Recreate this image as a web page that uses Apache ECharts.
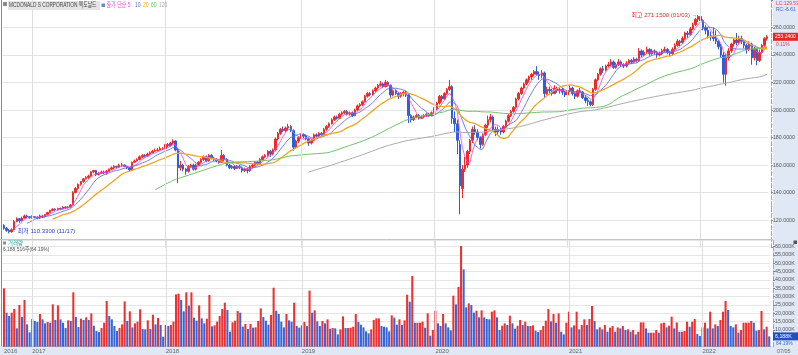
<!DOCTYPE html>
<html><head><meta charset="utf-8">
<script src="https://cdn.jsdelivr.net/npm/echarts@6/dist/echarts.min.js"></script>
<style>
html,body{margin:0;padding:0;background:#fff}
#c{width:798px;height:355px;background:linear-gradient(to right,rgba(0,0,0,0) 773px,#dfe8f4 773px),linear-gradient(to bottom,rgba(0,0,0,0) 346px,#dfe8f4 346px),#fff}
</style>
</head><body><div id="c"></div><script>
const startDate = '2016-10-17';
const yearLabels = ['2016','2017','2018','2019','2020','2021','2022'];
const lastLabel = '07/05';
const opens = [116,114,112.5,111.5,113,119,121,119.5,121.5,123,
122.5,121.7,122.5,122,121.5,123,122.5,124,125.5,127,
128,127.5,128.5,128,129.5,129,129.5,131,140,143,
146,148,150,151,152,155,156,153,154,155,
154.5,155.5,157,158,159,158.5,160,160,159,158,
156.5,162,163,164,166,167,166.5,168,169,170,
170.5,171,172,172,175,174,176,177.5,171,158,
160,157,155.5,159,160,157,160,162,164,166,
163,167,165,164,163,162,167,164,160,158,
159,157.5,159,158,156,157,156,159,160,162,
161,164,166,167,170,168,171,179,183,186,
185,187,188,185,173,177.5,180,182,181,179,
176,178,182,181,183,182,186,188,190,193,
195,194,197,198,199,197,198,196,200,203,
204,206,210,212,211,214,216,218,219,217,
220,218,211,214,212,210,212,213,211,196,
193,195,196,194,195,196,197,196,198,201,
205,210,208,212,215,217,194,190,175,143,
157,160,170,178,186,184,180,175,182,189,
193,195,186,184,186,184,188,192,196,199,
202,208,212,216,219,222,224,226,228,226,
225,227,212,215,214,212,216,214,215,213,
211,214,216,212,210,214,213,209,207,206,
204,215,222,226,230,229,232,233,235,231,
233,235,233,232,234,236,235,237,236,243,
240,242,244,241,243,242,240,241,243,244,
242,241,244,247,250,249,252,256,255,259,
262,266,268,265,260,258,254,253,252,250,
246,240,226,238,243,248,251,249,252,250,
247,244,248,238,244,236,242,247,252];
const highs = [117,115,113.5,114,120,122,121.5,122.5,124,124,
123,123.5,123,122.8,124,123.8,124.5,126,127.5,128.5,
128.6,129,129,130,130,130.2,131.5,141,144,146.5,
148.5,150.5,152,153,155.5,156.5,156.5,155,156,156,
156.5,157.5,159,160,159.5,161,161.5,160.5,159.5,158.5,
162.5,164,165,167,168,168,169,170,171,172,
172.5,173.5,173,176,176,177,178.7,178,172,163,
161,158,160,161,161,161,163,165,167,167,
168,168,166,165,164,171,168,165,161,160,
160,160,160,159,158,158,160,161,163,163,
165,167,168,171,171,172,180,184,187,188,
188,190,189,186,178.5,181,183,183,182,180,
179,183,183,184,184,187,189,191,194,196,
196,198,199,200,200,199,199,201,204,205,
207,211,213,213,215,217,219,221,220,221.9,
221,218.5,215,215,213,213,214,214,212,197,
196,197,197,196,197,198,198,199,202,206,
211,211,213,216,221.9,218,199,193,178,160,
166,171,179,188,189,186,181,183,190,196,
197,196,188,188,187,189,193,197,200,203,
209,213,217,220,223,225,227,229,231.9,228,
229,228,217,217,215.5,218,217,216.5,216,214,
215.5,218,217,213,215,216,214,211,209,207,
216,223,227,231,232,233,235,237,236,234.5,
237,236,234,235.5,237,237,238.5,238,245,244,
243.5,246,245,244.5,244,243,242.5,244.5,246,245,
243,245.5,248.5,251.5,251,253.5,257,257.5,260.5,263.5,
267,269,271.15,266,262,260,257,260,258,251,
248,242,241,245,249,252,256,254,254,251.5,
248,250,249,246,245,244,248,253,254.5];
const lows = [113,111.5,110.33,111,112.5,118.5,118,119,121,121.5,
121,121,121.3,120.5,120.8,121.5,122,123.5,125,126.5,
126.8,127,127.2,127.8,128.2,128.5,129,130.5,139.5,142,
145,147,149.5,150,151.5,154,152,152.5,153.5,153.5,
153,155,156.5,157,157.5,158,159,158.5,157,155.5,
156,161.5,162.5,163.5,165,165.5,166,167.5,168.5,169.5,
170,170.5,171,171.5,173,173.5,175,170,146.84,156,
155.5,153,154.5,158,156,156,159,161,163,162,
162.5,164,163,162,161,161.5,163,159,157,157,
156.5,157,157,154.5,155,154,155,158,159,160,
160.5,163.5,165,166,166,167,170,178,182,184,
184,185,184,170.5,172,176,179,179.5,178,174,
175,177.5,180,180.5,181,181.5,185,187,189.5,192,
193,193.5,196,197,196,196,195,195.5,199.5,202,
203,205.5,209,210,210.5,213,215,217,216,216.5,
217,209,210,211,208,209,210,209.5,190.5,191,
192,194,193,193.5,194,195,195,195.5,197,200,
204,206,207.5,211,214,190,184,168,124.23,136,
155,158,168,176,182,178,172,174,181,187,
191,184,181,182,182,183,187,191,195,198,
201,207,211,215,218,220,222,224.5,225,222,
223,209,211,212,210.5,211.5,212.5,212,211,209.5,
210,213,210.5,208,209,212,208,205,203,202.7,
203,214,221,225,227,228,231,232,230,230,
232,231.5,230.5,231,233,233.5,234,234.5,235,238.5,
239,241,239.5,240,240.5,238,239,240,242,240.5,
239,240,243,246,246.5,248,251,252.5,254,258,
261,264,263,258,255,252,250.5,250,248,244,
238,220,217.68,236,241.5,246,247,247.5,248,245,
241,243,233,236,232.5,235,241,246,250.5];
const closes = [114,112.5,111.5,113,119,121,119.5,121.5,123,122.5,
121.7,122.5,122,121.5,123,122.5,124,125.5,127,128,
127.5,128.5,128,129.5,129,129.5,131,140,143,146,
148,150,151,152,155,156,153,154,155,154.5,
155.5,157,158,159,158.5,160,160,159,158,156.5,
162,163,164,166,167,166.5,168,169,170,170.5,
171,172,172,175,174,176,177.5,171,158,160,
157,155.5,159,160,157,160,162,164,166,163,
167,165,164,163,162,167,164,160,158,159,
157.5,159,158,156,157,156,159,160,162,161,
164,166,167,170,168,171,179,183,186,185,
187,188,185,173,177.5,180,182,181,179,176,
178,182,181,183,182,186,188,190,193,195,
194,197,198,199,197,198,196,200,203,204,
206,210,212,211,214,216,218,219,217,220,
218,211,214,212,210,212,213,211,196,193,
195,196,194,195,196,197,196,198,201,205,
210,208,212,215,217,194,190,178,145,157,
160,170,178,186,184,180,175,182,189,193,
195,186,184,186,184,188,192,196,199,202,
208,212,216,219,222,224,226,228,226,225,
227,212,215,214,212,216,214,215,213,211,
214,216,212,210,214,213,209,207,206,204,
215,222,226,230,229,232,233,235,231,233,
235,233,232,234,236,235,237,236,243,240,
242,244,241,243,242,240,241,243,244,242,
241,244,247,250,249,252,256,255,259,262,
266,268,265,260,258,254,253,252,250,246,
240,226,238,243,248,251,249,252,250,247,
244,248,238,244,236,242,247,252,253.24];
const volumesK = [35000,20400,18400,20400,22600,11000,25000,17800,28000,13400,
8600,16600,15400,14800,19600,16400,14000,14800,14400,25400,
16000,24800,16400,14400,11200,15800,15400,32600,17800,11800,
16800,16000,17600,16000,20000,12600,9400,8800,11200,14400,
27400,18400,16400,12400,9400,11200,13400,27200,15400,21200,
11600,14000,15000,22400,10600,10400,15800,10600,19200,13400,
17200,13000,6000,13000,12400,13000,15000,31400,31800,28000,
21200,32600,24600,32600,17400,15600,24800,17000,14000,16800,
31000,12200,12800,15000,18400,22600,26400,22000,9000,14600,
15600,21400,20400,12000,13600,10600,13600,11400,11600,15400,
23000,17800,15600,13200,19000,35400,21600,19600,15000,11600,
19600,15800,15000,26400,12400,11400,12800,14800,12400,33600,
20400,21800,15200,12400,15400,14000,16400,10800,11200,11000,
7400,10400,18200,11200,11200,11400,12000,19600,14800,13200,
11600,9200,8000,10400,16000,17000,17000,12400,12000,11600,
9200,18800,17400,13200,
16400,13000,15800,31200,27000,42400,14400,14400,14400,15000,
11400,20000,6600,10000,21600,14000,12400,19600,14000,11600,
9800,30600,25400,35800,60400,46400,23600,26000,25000,20400,
21600,17600,21800,17600,16600,16400,21000,21800,17600,10000,
12600,14000,13000,18600,14000,10800,12600,16000,13000,15000,
12400,12400,12800,9600,8800,10000,12400,15600,22600,15200,
19600,14400,20000,9000,7400,14400,21000,11600,12800,21000,
10400,13000,16400,13000,16600,24400,15400,10400,11600,10400,
13000,9000,11400,12400,9000,11600,11000,12400,10000,10400,
9000,10000,7400,9000,14600,14600,11000,8400,8400,8400,
10000,8400,14000,14400,11600,12600,18000,11000,14600,9000,
9000,9400,15000,12000,15000,16600,7600,6400,11600,14400,
11000,21000,11000,13400,12400,16000,21000,27400,22000,12400,
11600,13400,8400,10000,14400,14400,14400,15400,14400,9600,
10000,21400,10400,12000,6188];
const maPeriods = [5,10,20,60,120];
const maColors = ['#ee4fd8','#5a6fd6','#f0a526','#6fbf6a','#a9a9a9'];

const n = closes.length;
if (opens.length!==n||highs.length!==n||lows.length!==n||volumesK.length!==n) {
  throw new Error('length mismatch '+[opens.length,highs.length,lows.length,closes.length,volumesK.length].join(','));
}
const dates = [];
let t = Date.parse(startDate+'T00:00:00Z');
for (let i=0;i<n;i++){ dates.push(new Date(t).toISOString().slice(0,10)); t += 7*86400000; }
const yearIdx = [];
for (let i=1;i<n;i++) if (dates[i].slice(0,4)!==dates[i-1].slice(0,4)) yearIdx.push(i);

function ma(p){ return closes.map((_,i)=>{ if(i<p-1) return '-'; let s=0; for(let k=i-p+1;k<=i;k++) s+=closes[k]; return +(s/p).toFixed(3);}); }
let hiI=0, loI=0;
for (let i=0;i<n;i++){ if(highs[i]>highs[hiI]) hiI=i; if(lows[i]<lows[loI]) loI=i; }

const UP='#ec2b2b', DN='#2e5fd6';
const VUP='#ee3030', VDN='#3565d8';
const FONT = "'Liberation Sans','Noto Sans CJK KR',sans-serif";
const chart = echarts.init(document.getElementById('c'), null, {renderer:'canvas'});
const GL=2.7, GR=27.5;
const yearLines = {silent:true, symbol:['none','none'], label:{show:false}, lineStyle:{color:'#dedede',width:1,type:'solid'}, data: yearIdx.map(i=>({xAxis: dates[i]})), animation:false};

const option = {
  animation:false,
  grid:[
    {left:GL, right:GR, top:-3.3, bottom:107.4},
    {left:GL, right:GR, top:240, bottom:8.3}
  ],
  xAxis:[
    {type:'category', gridIndex:0, data:dates, boundaryGap:true, axisLine:{show:false}, axisTick:{show:false}, axisLabel:{show:false}, splitLine:{show:false}},
    {type:'category', gridIndex:1, data:dates, boundaryGap:true,
     axisLine:{show:true, lineStyle:{color:'#b8c4d4'}}, axisTick:{show:false},
     axisLabel:{show:true, interval:(i)=> i===0 || yearIdx.indexOf(i)>=0,
       formatter:(v,i)=> i===0 ? yearLabels[0] : yearLabels[yearIdx.indexOf(i)+1],
       align:'left', fontSize:6, color:'#666', margin:2, fontFamily:FONT},
     splitLine:{show:false}}
  ],
  yAxis:[
    {type:'value', gridIndex:0, position:'right', offset:2.5, min:100, max:280, interval:20, scale:false,
     axisLine:{show:true, lineStyle:{color:'#9aa8bb', type:'dashed'}},
     axisTick:{show:true, length:2, lineStyle:{color:'#888'}},
     minorTick:{show:true, splitNumber:4, length:1.5, lineStyle:{color:'#aab'}},
     axisLabel:{show:true, showMinLabel:false, showMaxLabel:false, formatter:(v)=>v.toFixed(4), fontSize:5.3, color:'#555', margin:2, fontFamily:FONT},
     splitLine:{show:true, showMinLine:false, showMaxLine:false, lineStyle:{color:'#e4e4e4'}}},
    {type:'value', gridIndex:1, position:'right', offset:2.5, min:0, max:64000, interval:5000,
     axisLine:{show:true, lineStyle:{color:'#9aa8bb', type:'dashed'}},
     axisTick:{show:true, length:2, lineStyle:{color:'#888'}},
     axisLabel:{show:true, showMinLabel:false, showMaxLabel:false, formatter:(v)=>v.toLocaleString('en-US')+'K', fontSize:5.3, color:'#555', margin:2, fontFamily:FONT},
     splitLine:{show:true, showMinLine:false, showMaxLine:true, lineStyle:{color:'#e6e6e6'}}}
  ],
  series:[
    {type:'candlestick', name:'price', xAxisIndex:0, yAxisIndex:0, barWidth:'78%',
     data: closes.map((c,i)=>[opens[i], c, lows[i], highs[i]]),
     itemStyle:{color:UP, color0:DN, borderColor:UP, borderColor0:DN, borderWidth:1},
     markLine: yearLines,
     markPoint:{symbol:'circle', symbolSize:0, silent:true, animation:false,
       data:[
         {coord:[dates[hiI], highs[hiI]], label:{show:true, position:'left', distance:3, offset:[0,3], formatter:'최고 '+highs[hiI].toFixed(4)+' (01/03) →', color:'#e02a2a', fontSize:6, fontFamily:FONT}},
         {coord:[dates[loI], lows[loI]], label:{show:true, position:'right', distance:1, offset:[0,-2], formatter:'← 최저 '+lows[loI].toFixed(4)+' (11/17)', color:'#2b46c4', fontSize:6, fontFamily:FONT}}
       ]},
     z:3},
    ...maPeriods.map((p,k)=>({type:'line', name:'MA'+p, xAxisIndex:0, yAxisIndex:0, data:ma(p), showSymbol:false, symbol:'none',
      lineStyle:{color:maColors[k], width:(p===20?1.3:1), opacity:(p<=10?0.85:1)}, z:4})),
    {type:'bar', name:'vol', xAxisIndex:1, yAxisIndex:1, barWidth:'80%',
     data: volumesK.map((v,i)=>({value:v, itemStyle:{color: (i===0 || v>=volumesK[i-1]) ? VUP : VDN}})),
     markLine: yearLines}
  ]
};
chart.setOption(option);

const pY = chart.convertToPixel({yAxisIndex:0}, closes[n-1]);
const vY = chart.convertToPixel({yAxisIndex:1}, volumesK[n-1]);
const txt = (x,y,s,color,size,sx,z)=>({type:'text', x:x, y:y, scaleX:sx||1, z:z||50,
  style:{text:s, fill:color, font:size+'px '+FONT, verticalAlign:'top', align:'left'}});
chart.setOption({graphic:[
  {type:'line', z:50, shape:{x1:1.5,y1:0,x2:1.5,y2:346}, style:{stroke:'#8a8a8a', lineWidth:1}},
  {type:'line', z:50, shape:{x1:0,y1:239.5,x2:773,y2:239.5}, style:{stroke:'#c6c6c6', lineWidth:1}},
  {type:'rect', z:49, shape:{x:3,y:2,width:4,height:4}, style:{fill:'#8c8c8c'}},
  {type:'rect', z:49, shape:{x:8,y:1,width:92,height:9}, style:{fill:'#e4e4e4'}},
  txt(9,2,'MCDONALD S CORPORATION 맥도날드','#444',6.3,0.76),
  {type:'rect', z:49, shape:{x:101.5,y:3.5,width:3.5,height:3.5}, style:{fill:'#6f86b8'}},
  txt(106.5,2,'종가 단순 5','#ee4fd8',6.3,0.8),
  txt(135,2,'10','#5a6fd6',6.3,0.8),
  txt(143,2,'20','#f0a526',6.3,0.8),
  txt(151,2,'60','#6fbf6a',6.3,0.8),
  txt(159,2,'120','#a9a9a9',6.3,0.8),
  {type:'rect', z:49, shape:{x:3,y:241.5,width:3,height:3}, style:{fill:'#8c8c8c'}},
  txt(8,240,'거래량','#2aa0a0',6,0.9),
  txt(3,246.5,'6,188,516주(64.19%)','#555',6,0.82),
  txt(776,0,'LC:129.53','#e04040',6,0.82),
  txt(776,6.5,'RC:-6.61','#3a63d0',6,0.82),
  {type:'rect', z:60, shape:{x:773,y:pY-4,width:25,height:8}, style:{fill:'#e8262a'}},
  txt(775,pY-3.3,closes[n-1].toFixed(4),'#fff',6.2,0.8,61),
  txt(776,pY+4.5,'0.11%','#e04040',5.8,0.85),
  {type:'rect', z:60, shape:{x:773,y:vY-4,width:25,height:8}, style:{fill:'#1f4fc2'}},
  txt(775,vY-3.3,'6,188K','#fff',6.2,0.85,61),
  txt(776,vY+4.5,'64.19%','#3a63d0',5.8,0.85),
  {type:'rect', z:49, shape:{x:793.5,y:240.5,width:3.5,height:3.5}, style:{fill:'#555'}},
  txt(777,348.5,lastLabel,'#666',6,0.9)
]});
</script></body></html>
